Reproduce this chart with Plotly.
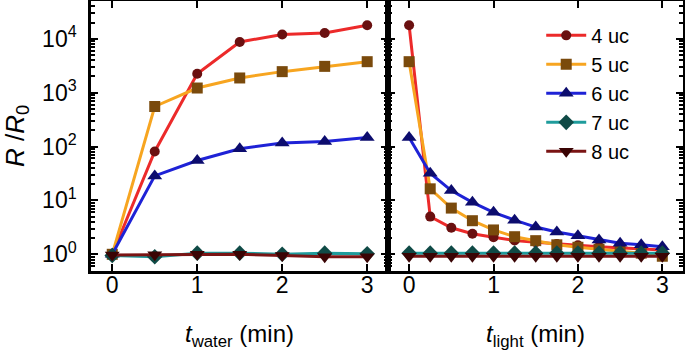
import plotly.graph_objects as go
from plotly.subplots import make_subplots

# ---- data ----
t_water = [0, 0.5, 1, 1.5, 2, 2.5, 3]
t_light = [0, 0.25, 0.5, 0.75, 1, 1.25, 1.5, 1.75, 2, 2.25, 2.5, 2.75, 3]

series_names = ["4 uc", "5 uc", "6 uc", "7 uc", "8 uc"]

water_4uc = [1.0, 81, 2240, 8700, 12000, 12800, 17800]
water_5uc = [1.0, 553, 1217, 1870, 2450, 3070, 3750]
water_6uc = [1.0, 28.5, 55, 91, 116, 124, 147]
water_7uc = [0.95, 0.9, 1.05, 1.05, 1.0, 1.05, 1.02]
water_8uc = [0.97, 0.98, 1.0, 1.0, 0.95, 0.9, 0.9]

light_4uc = [17800, 5.0, 3.1, 2.4, 2.07, 1.8, 1.67, 1.55, 1.47, 1.38, 1.33, 1.27, 1.2]
light_5uc = [3750, 16.4, 7.2, 4.2, 2.83, 2.12, 1.79, 1.5, 1.35, 1.24, 1.12, 1.05, 0.92]
light_6uc = [147, 32, 15.2, 9.2, 6.0, 4.3, 3.2, 2.6, 2.2, 1.85, 1.6, 1.5, 1.38]
light_7uc = [1.05, 1.05, 1.05, 1.05, 1.05, 1.05, 1.05, 1.05, 1.05, 1.05, 1.05, 1.05, 1.05]
light_8uc = [0.92, 0.92, 0.92, 0.92, 0.92, 0.92, 0.92, 0.92, 0.92, 0.92, 0.92, 0.92, 0.92]

x_tickvals = [0, 1, 2, 3]
y_tickvals = [1, 10, 100, 1000, 10000]
y_ticktext = ["10<sup>0</sup>", "10<sup>1</sup>", "10<sup>2</sup>", "10<sup>3</sup>", "10<sup>4</sup>"]

# ---- styles ----
line_colors = ["#EC2A2A", "#F7A520", "#1E22D6", "#1F9C9C", "#7A1414"]
marker_colors = ["#6A1010", "#7A4A0C", "#0C0C6E", "#0F4A46", "#3A0404"]
symbols = ["circle", "square", "triangle-up", "diamond", "triangle-down"]
sizes = [10, 11, 13, 12, 13]

water = [water_4uc, water_5uc, water_6uc, water_7uc, water_8uc]
light = [light_4uc, light_5uc, light_6uc, light_7uc, light_8uc]

FONT = "Liberation Sans, Arial, Helvetica, sans-serif"

fig = make_subplots(rows=1, cols=2, shared_yaxes=True, horizontal_spacing=0)

for i, name in enumerate(series_names):
    common = dict(
        mode="lines+markers",
        line=dict(color=line_colors[i], width=3),
        marker=dict(symbol=symbols[i], size=sizes[i], color=marker_colors[i],
                    line=dict(width=0)),
        name=name,
    )
    fig.add_trace(go.Scatter(x=t_water, y=water[i], showlegend=False, **common), row=1, col=1)
    fig.add_trace(go.Scatter(x=t_light, y=light[i], showlegend=True, **common), row=1, col=2)

axis_common = dict(
    showline=True, linecolor="black", linewidth=2.5, mirror="ticks",
    ticks="inside", ticklen=7, tickwidth=2, tickcolor="black",
    showgrid=False, zeroline=False, automargin=False,
    tickfont=dict(family=FONT, size=23, color="black"),
)

fig.update_xaxes(range=[-0.25, 3.245], tickvals=x_tickvals, ticklabelstandoff=-8, **axis_common)
fig.update_xaxes(domain=[0, 0.5017], row=1, col=1,
                 title=dict(text="<i>t</i><sub>water</sub> (min)",
                            font=dict(family=FONT, size=24, color="black"), standoff=31))
fig.update_xaxes(domain=[0.5017, 1], row=1, col=2,
                 title=dict(text="<i>t</i><sub>light</sub> (min)",
                            font=dict(family=FONT, size=24, color="black"), standoff=31))

fig.update_yaxes(type="log", range=[-0.31, 4.70], tickvals=y_tickvals,
                 minor=dict(ticks="inside", ticklen=4, tickwidth=1.5, tickcolor="black", dtick="D1"),
                 **axis_common)
fig.update_yaxes(ticktext=y_ticktext, ticklabelstandoff=7, row=1, col=1,
                 title=dict(text="<i>R</i> /<i>R</i><sub>0</sub>",
                            font=dict(family=FONT, size=26, color="black"), standoff=14))
fig.update_yaxes(showticklabels=False, row=1, col=2)

fig.update_layout(
    width=685, height=351,
    margin=dict(l=91, r=2, t=1, b=80),
    plot_bgcolor="white", paper_bgcolor="white",
    showlegend=True,
    legend=dict(x=0.7605, y=0.945, xanchor="left", yanchor="top",
                bgcolor="rgba(0,0,0,0)", font=dict(family=FONT, size=20, color="black"),
                itemwidth=40, tracegroupgap=0),
)

fig.write_html("out.html", config={"displayModeBar": False},
               post_script="document.body.style.margin='0';")
